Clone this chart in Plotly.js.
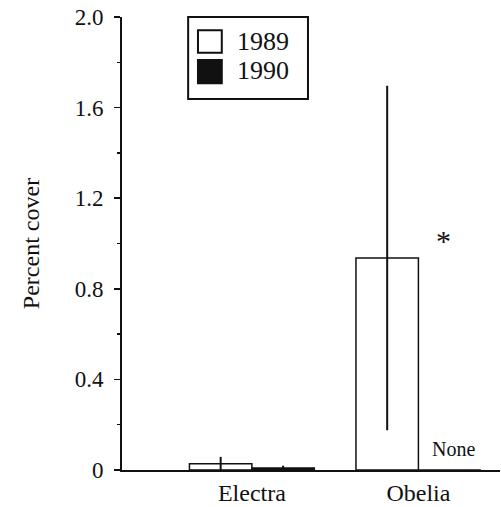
<!DOCTYPE html>
<html>
<head>
<meta charset="utf-8">
<script src="https://cdn.plot.ly/plotly-3.0.1.min.js"></script>
<style>html,body{margin:0;padding:0;background:#fff;}#chart{width:501px;height:507px;}</style>
</head>
<body>
<div id="chart"></div>
<script>
var categories = ["Electra", "Obelia"];
var years = ["1989", "1990"];
var cover1989 = [0.028, 0.936];
var err1989 = [0.03, 0.76];
var cover1990 = [0.009, 0];
var err1990 = [0.01, 0];
var yTickVals = [0, 0.4, 0.8, 1.2, 1.6, 2.0];
var yTickText = ["0", "0.4", "0.8", "1.2", "1.6", "2.0"];

var FONT = "'Liberation Serif', 'Times New Roman', serif";

var traces = [
  {
    type: "bar", name: years[0], x: categories, y: cover1989,
    marker: {color: "#ffffff", line: {color: "#111", width: 1.5}},
    error_y: {type: "data", array: err1989, color: "#111", thickness: 2, width: 0}
  },
  {
    type: "bar", name: years[1], x: categories, y: cover1990,
    marker: {color: "#111111", line: {color: "#111", width: 1.5}},
    error_y: {type: "data", array: err1990, color: "#111", thickness: 2, width: 0}
  }
];

var layout = {
  width: 501, height: 507,
  margin: {l: 122, r: 1, t: 17, b: 37},
  paper_bgcolor: "#fff", plot_bgcolor: "#fff",
  showlegend: false,
  barmode: "group", bargap: 0.25, bargroupgap: 0,
  font: {family: FONT, color: "#111"},
  xaxis: {
    type: "category", range: [-0.78, 1.49],
    showline: true, linecolor: "#111", linewidth: 2,
    ticks: "", showgrid: false, zeroline: false,
    tickfont: {family: FONT, size: 24, color: "#111"},
    ticklabelstandoff: 0
  },
  yaxis: {
    range: [0, 2.0], showline: true, linecolor: "#111", linewidth: 2,
    showgrid: false, zeroline: false,
    tickvals: yTickVals, ticktext: yTickText,
    ticks: "outside", ticklen: 6, tickwidth: 1.5, tickcolor: "#111",
    minor: {dtick: 0.2, tick0: 0, ticks: "outside", ticklen: 3, tickwidth: 1.5, tickcolor: "#111"},
    tickfont: {family: FONT, size: 23, color: "#111"},
    ticklabelstandoff: 6,
    title: {text: "Percent cover", font: {family: FONT, size: 24, color: "#111"}, standoff: 28}
  },
  shapes: [
    {type: "rect", xref: "paper", yref: "paper", x0: 0.175, x1: 0.492, y0: 0.819, y1: 1.0,
     line: {color: "#111", width: 2}, fillcolor: "#fff", layer: "above"},
    {type: "rect", xref: "paper", yref: "paper", x0: 0.201, x1: 0.264, y0: 0.921, y1: 0.971,
     line: {color: "#111", width: 2}, fillcolor: "#fff", layer: "above"},
    {type: "rect", xref: "paper", yref: "paper", x0: 0.201, x1: 0.264, y0: 0.854, y1: 0.905,
     line: {color: "#111", width: 2}, fillcolor: "#111", layer: "above"}
  ],
  annotations: [
    {xref: "paper", yref: "paper", x: 0.300, y: 0.947, xanchor: "left", yanchor: "middle",
     text: years[0], showarrow: false, font: {family: FONT, size: 26, color: "#111"}},
    {xref: "paper", yref: "paper", x: 0.300, y: 0.881, xanchor: "left", yanchor: "middle",
     text: years[1], showarrow: false, font: {family: FONT, size: 26, color: "#111"}},
    {x: categories[1], y: cover1990[1], xshift: 35, yshift: 8, yanchor: "bottom", xanchor: "center",
     text: "None", showarrow: false, font: {family: FONT, size: 20, color: "#111"}},
    {x: categories[1], y: cover1989[1], xshift: 25, yshift: 18, yanchor: "middle", xanchor: "center",
     text: "*", showarrow: false, font: {family: FONT, size: 30, color: "#111"}}
  ]
};

Plotly.newPlot("chart", traces, layout, {staticPlot: true, displayModeBar: false});
</script>
</body>
</html>
